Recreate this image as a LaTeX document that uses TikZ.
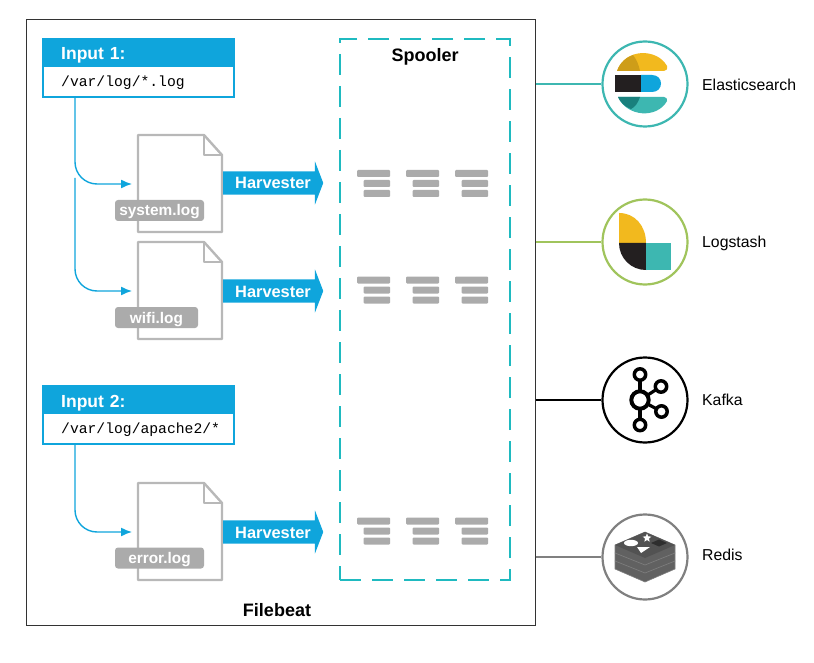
\documentclass[tikz,border=0pt]{standalone}
\usepackage{fontspec}
\setmainfont{Liberation Sans}
\setmonofont{Liberation Mono}
\usetikzlibrary{arrows.meta,shapes.arrows,shapes.geometric}

\definecolor{beatblue}{HTML}{0FA5DC}
\definecolor{spoolteal}{HTML}{1FBAC0}
\definecolor{docgray}{HTML}{B8B8B8}
\definecolor{taggray}{HTML}{ABABAB}
\definecolor{elasticteal}{HTML}{3DB7B1}
\definecolor{stashgreen}{HTML}{A0C45C}
\definecolor{redisgray}{HTML}{808080}
\definecolor{logoyellow}{HTML}{F2B91E}
\definecolor{logodark}{HTML}{231F20}

\tikzset{
  inputbox/.style={draw=beatblue, line width=2pt, fill=white, minimum width=191pt, minimum height=58pt, inner sep=0pt},
  inputhead/.style={fill=beatblue, text=white, font=\bfseries\fontsize{17.5}{17.5}\selectfont, anchor=west, minimum height=29pt, text width=155pt, inner xsep=19pt, inner ysep=0pt, text height=15pt, text depth=0pt, align=left},
  inputpath/.style={font=\ttfamily\fontsize{14.7}{14.7}\selectfont, anchor=west, inner sep=0pt},
  filetag/.style={fill=taggray, text=white, rounded corners=3pt, font=\bfseries\fontsize{15.4}{15.4}\selectfont, minimum height=21pt, inner sep=0pt, text height=11.5pt, text depth=0.5pt},
  harvester/.style={single arrow, fill=beatblue, text=white, font=\bfseries\fontsize{16.4}{16.4}\selectfont, inner xsep=0pt, inner ysep=5.5pt, text height=12pt, text depth=0pt, minimum width=42pt, minimum height=100pt, single arrow head extend=10pt, single arrow tip angle=138, anchor=center},
  flow/.style={draw=beatblue, line width=1.4pt, rounded corners=22pt, -{Latex[length=11pt,width=9pt]}},
  heading/.style={font=\bfseries\fontsize{18}{18}\selectfont},
  sink/.style={circle, line width=2.2pt, fill=white, minimum size=85pt, inner sep=0pt},
  sinklabel/.style={font=\fontsize{15.8}{15.8}\selectfont, anchor=base west, inner sep=0pt},
  logfile/.pic={
    \draw[docgray, line width=2.4pt, fill=white, line join=round] (0,0) -- (66,0) -- (84,20) -- (84,97) -- (0,97) -- cycle;
    \draw[docgray, line width=2.4pt, line join=round] (66,0) -- (66,20) -- (84,20);
  },
  barstack/.pic={
    \fill[taggray, rounded corners=1pt] (0,-3.5) rectangle (33,3.5);
    \fill[taggray, rounded corners=1pt] (6.5,6.5) rectangle (33,13.5);
    \fill[taggray, rounded corners=1pt] (6.5,16.5) rectangle (33,23.5);
  },
}

\begin{document}
\begin{tikzpicture}[x=1pt, y=-1pt]
    \useasboundingbox (0,0) rectangle (814,663);

    \node[draw=black!80, line width=1pt, minimum width=509pt, minimum height=605pt, inner sep=0pt] (Frame) at (280.5,322.5) {};
    \node[draw=spoolteal, line width=2pt, dash pattern=on 21pt off 11pt, minimum width=170pt, minimum height=541pt, inner sep=0pt] (Spooler) at (425,309.5) {};
    \node[heading] (SpoolerText) at (425,57) {Spooler};
    \node[heading] (FilebeatText) at (277,610) {Filebeat};

    \node[inputbox] (InOne) at (138.5,68) {};
    \node[inputhead] (InOneHead) at (42,52.5) {Input 1:};
    \node[inputpath] (InOnePath) at (61,82.5) {/var/log/*.log};
    \node[inputbox] (InTwo) at (138.5,415) {};
    \node[inputhead] (InTwoHead) at (42,399.5) {Input 2:};
    \node[inputpath] (InTwoPath) at (61,429.5) {/var/log/apache2/*};

    \pic at (138,135) {logfile};
    \pic at (138,242) {logfile};
    \pic at (138,483) {logfile};
    \node[filetag, minimum width=89pt] (SystemTag) at (159.5,210.5) {system.log};
    \node[filetag, minimum width=83pt] (WifiTag) at (156.5,317.5) {wifi.log};
    \node[filetag, minimum width=89pt] (ErrorTag) at (159.5,558) {error.log};

    \coordinate (SystemIn) at (132,184);
    \coordinate (WifiStart) at (75,178);
    \coordinate (WifiIn) at (132,291);
    \coordinate (ErrorIn) at (132,532);
    \draw[flow] (InOne.south -| WifiStart) |- (SystemIn);
    \draw[flow] (WifiStart) |- (WifiIn);
    \draw[flow] (InTwo.south -| WifiStart) |- (ErrorIn);

    \node[harvester] (HarvOne) at (271,183) {\hspace{4pt}Harvester};
    \node[harvester] (HarvTwo) at (271,291) {\hspace{4pt}Harvester};
    \node[harvester] (HarvThree) at (271,532) {\hspace{4pt}Harvester};

    \pic at (357,173.5) {barstack};
    \pic at (406,173.5) {barstack};
    \pic at (455,173.5) {barstack};
    \pic at (357,280) {barstack};
    \pic at (406,280) {barstack};
    \pic at (455,280) {barstack};
    \pic at (357,521) {barstack};
    \pic at (406,521) {barstack};
    \pic at (455,521) {barstack};

    \node[sink, draw=elasticteal] (Elastic) at (645,84) {};
    \node[sink, draw=stashgreen] (Stash) at (645,242) {};
    \node[sink, draw=black] (Kafka) at (645,400) {};
    \node[sink, draw=redisgray] (Redis) at (645,557) {};

    \draw[elasticteal, line width=1.6pt] (Frame.east |- Elastic) -- (Elastic);
    \draw[stashgreen, line width=1.6pt] (Frame.east |- Stash) -- (Stash);
    \draw[black, line width=1.6pt] (Frame.east |- Kafka) -- (Kafka);
    \draw[redisgray, line width=1.6pt] (Frame.east |- Redis) -- (Redis);

    \node[sinklabel] (ElasticText) at (702,90.5) {Elasticsearch};
    \node[sinklabel] (StashText) at (702,247.5) {Logstash};
    \node[sinklabel] (KafkaText) at (702,405.5) {Kafka};
    \node[sinklabel] (RedisText) at (702,560.5) {Redis};

    % elasticsearch logo
    \fill[logoyellow] (617,71) .. controls (625,48) and (657,48) .. (667,66) .. controls (668,69) and (666,71) .. (664,71) -- cycle;
    \fill[logoyellow!85!black] (617,71) .. controls (620,62) and (627,57) .. (633,55) .. controls (637,60) and (639,66) .. (640,71) -- cycle;
    \fill[logodark] (615,75) rectangle (641,92);
    \fill[beatblue] (641,75) -- (652,75) .. controls (664,75) and (664,92) .. (652,92) -- (641,92) -- cycle;
    \fill[elasticteal] (618,97) -- (664,97) .. controls (666,97) and (668,99) .. (667,101) .. controls (657,119) and (627,117) .. (618,97) -- cycle;
    \fill[elasticteal!70!black!60!teal] (618,97) -- (640,97) .. controls (638,103) and (635,107) .. (631,109) .. controls (625,107) and (620,102) .. (618,97) -- cycle;

    % logstash logo
    \fill[logoyellow] (619,213) .. controls (635,213) and (646,226) .. (646,243) -- (619,243) -- cycle;
    \fill[logodark] (619,243) -- (646,243) -- (646,270) .. controls (631,270) and (619,258) .. (619,243) -- cycle;
    \fill[elasticteal] (646,243) rectangle (671,270);

    % kafka logo
    \draw[black, line width=3.2pt] (640,374) -- (640,425);
    \draw[black, line width=3.2pt] (640,400) -- (661,386.5);
    \draw[black, line width=3.2pt] (640,400) -- (661.5,411.5);
    \draw[black, line width=4pt, fill=white] (640,400) circle (8.7);
    \draw[black, line width=3.5pt, fill=white] (640,374.5) circle (5.7);
    \draw[black, line width=3.5pt, fill=white] (640,425) circle (5.7);
    \draw[black, line width=3.5pt, fill=white] (661,386.5) circle (5.7);
    \draw[black, line width=3.5pt, fill=white] (661.5,411.5) circle (5.7);

    % redis logo
    \fill[black!62, draw=black!50, line width=0.6pt] (615,561) -- (645,549) -- (675,561) -- (675,569) -- (645,582) -- (615,569) -- cycle;
    \fill[black!62, draw=black!50, line width=0.6pt] (615,553) -- (645,541) -- (675,553) -- (675,561) -- (645,573) -- (615,561) -- cycle;
    \fill[black!62, draw=black!50, line width=0.6pt] (615,545) -- (645,532) -- (675,545) -- (675,553) -- (645,565) -- (615,553) -- cycle;
    \fill[black!68] (615,545) -- (645,532) -- (675,545) -- (645,558) -- cycle;
    \fill[white] (631,543) ellipse (7 and 3.2);
    \fill[white] (637,547) -- (650,547) -- (641,553) -- cycle;
    \node[star, star points=5, star point ratio=2.2, fill=white, inner sep=0pt, minimum size=9pt] (RedisStar) at (647,538) {};
    \fill[black!82] (651,543) -- (659,539.5) -- (667,543) -- (659,546.5) -- cycle;
\end{tikzpicture}
\end{document}
